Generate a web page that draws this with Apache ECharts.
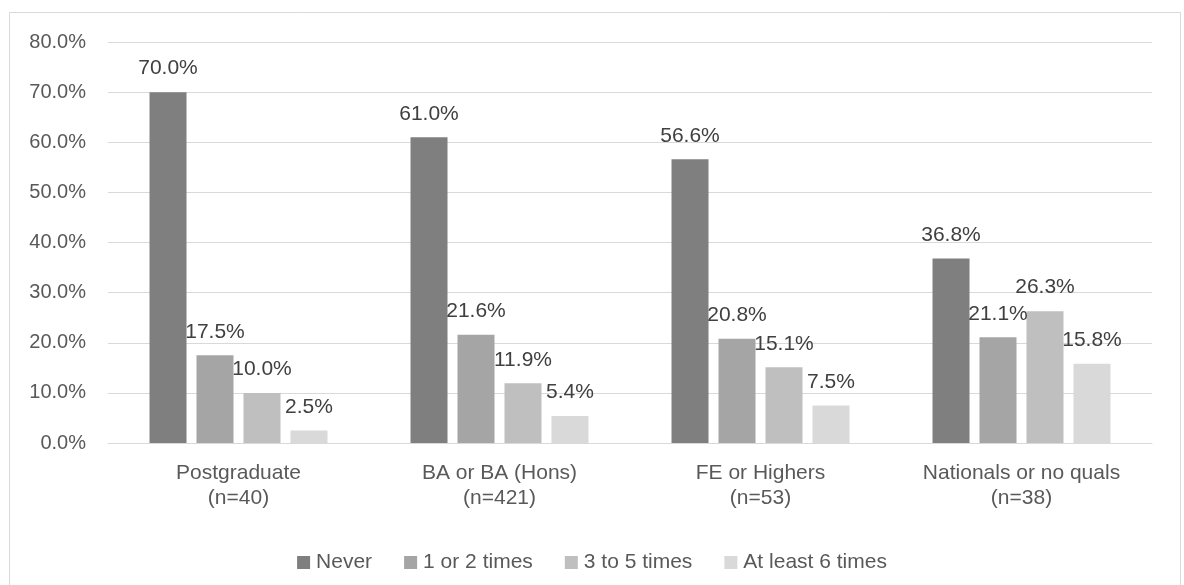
<!DOCTYPE html>
<html>
<head>
<meta charset="utf-8">
<script src="https://cdn.jsdelivr.net/npm/echarts@6/dist/echarts.min.js"></script>
<style>
  html, body { margin: 0; padding: 0; background: #ffffff; }
  #chart { width: 1184px; height: 585px; }
</style>
</head>
<body>
<div id="chart"></div>
<script>
// Qualification groups along the x axis
const categories = ['Postgraduate\n(n=40)', 'BA or BA (Hons)\n(n=421)', 'FE or Highers\n(n=53)', 'Nationals or no quals\n(n=38)'];

// Share of respondents (%) per frequency band
const never = [70.0, 61.0, 56.6, 36.8];
const oneOrTwo = [17.5, 21.6, 20.8, 21.1];
const threeToFive = [10.0, 11.9, 15.1, 26.3];
const atLeastSix = [2.5, 5.4, 7.5, 15.8];

const seriesNames = ['Never', '1 or 2 times', '3 to 5 times', 'At least 6 times'];
const seriesColors = ['#7f7f7f', '#a5a5a5', '#bfbfbf', '#d9d9d9'];
const seriesData = [never, oneOrTwo, threeToFive, atLeastSix];

const FONT = '"Liberation Sans", Arial, sans-serif';

const chart = echarts.init(document.getElementById('chart'), null, { renderer: 'canvas' });

chart.setOption({
  backgroundColor: '#ffffff',
  animation: false,
  textStyle: { fontFamily: FONT },
  graphic: [{
    type: 'rect',
    shape: { x: 9.5, y: 12.5, width: 1171, height: 600 },
    style: { fill: 'none', stroke: '#d9d9d9', lineWidth: 1 },
    silent: true,
    z: -1
  }],
  grid: { left: 108, right: 32, top: 42, bottom: 142, containLabel: false },
  legend: {
    data: seriesNames,
    bottom: 7,
    left: 'center',
    itemWidth: 13,
    itemHeight: 13,
    itemGap: 32,
    icon: 'rect',
    textStyle: { fontFamily: FONT, fontSize: 21, color: '#595959', padding: [0, 0, 0, 1] }
  },
  xAxis: {
    type: 'category',
    data: categories,
    axisLine: { lineStyle: { color: '#d9d9d9', width: 1 } },
    axisTick: { show: false },
    axisLabel: {
      fontFamily: FONT, fontSize: 21, color: '#595959',
      lineHeight: 25, margin: 18, interval: 0
    }
  },
  yAxis: {
    type: 'value',
    min: 0,
    max: 80,
    interval: 10,
    axisLine: { show: false },
    axisTick: { show: false },
    splitLine: { lineStyle: { color: '#d9d9d9', width: 1 } },
    axisLabel: {
      fontFamily: FONT, fontSize: 20, color: '#595959', margin: 22,
      formatter: v => v.toFixed(1) + '%'
    }
  },
  series: seriesData.map((d, i) => ({
    name: seriesNames[i],
    type: 'bar',
    data: d,
    barWidth: 37,
    barGap: '27%',
    itemStyle: { color: seriesColors[i] },
    label: {
      show: true,
      position: 'top',
      distance: 13,
      fontFamily: FONT,
      fontSize: 21,
      color: '#404040',
      formatter: p => p.value.toFixed(1) + '%'
    }
  }))
});
</script>
</body>
</html>
